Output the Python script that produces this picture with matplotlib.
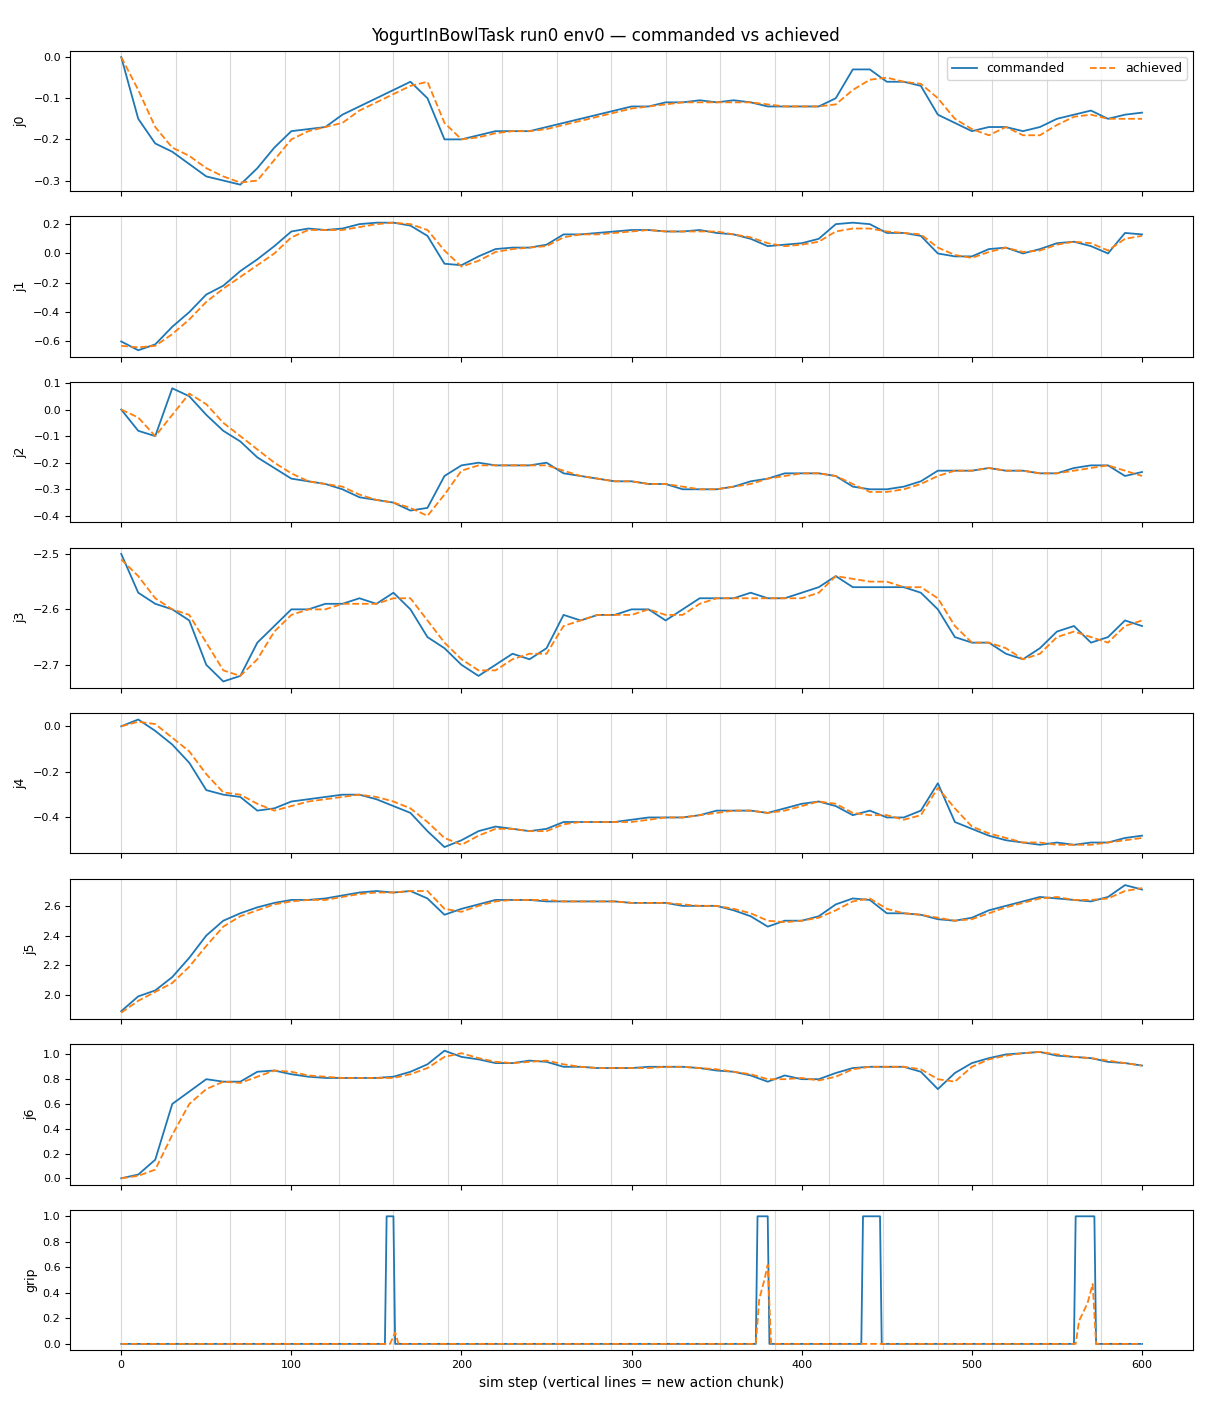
import matplotlib
matplotlib.use("Agg")
import matplotlib.pyplot as plt
from matplotlib.ticker import MultipleLocator

steps = list(range(0, 601, 10))

j0_cmd = [0.0, -0.15, -0.21, -0.23, -0.26, -0.29, -0.30, -0.31, -0.27, -0.22, -0.18, -0.175, -0.17, -0.14, -0.12,
          -0.10, -0.08, -0.06, -0.10, -0.20, -0.20, -0.19, -0.18, -0.18, -0.18, -0.17, -0.16, -0.15, -0.14, -0.13,
          -0.12, -0.12, -0.11, -0.11, -0.105, -0.11, -0.105, -0.11, -0.12, -0.12, -0.12, -0.12, -0.10, -0.03, -0.03,
          -0.06, -0.06, -0.07, -0.14, -0.16, -0.18, -0.17, -0.17, -0.18, -0.17, -0.15, -0.14, -0.13, -0.15, -0.14, -0.135]
j0_ach = [0.0, -0.08, -0.17, -0.22, -0.24, -0.27, -0.29, -0.305, -0.30, -0.25, -0.20, -0.18, -0.17, -0.16, -0.13,
          -0.11, -0.09, -0.07, -0.06, -0.16, -0.20, -0.195, -0.185, -0.18, -0.18, -0.175, -0.165, -0.155, -0.145, -0.135,
          -0.125, -0.12, -0.115, -0.11, -0.11, -0.11, -0.11, -0.11, -0.115, -0.12, -0.12, -0.12, -0.115, -0.08, -0.055,
          -0.05, -0.06, -0.065, -0.10, -0.15, -0.175, -0.19, -0.17, -0.19, -0.19, -0.165, -0.145, -0.14, -0.15, -0.15, -0.15]

j1_cmd = [-0.60, -0.66, -0.62, -0.50, -0.40, -0.28, -0.22, -0.12, -0.04, 0.05, 0.15, 0.17, 0.16, 0.17, 0.20,
          0.21, 0.21, 0.19, 0.12, -0.07, -0.08, -0.02, 0.03, 0.04, 0.04, 0.06, 0.13, 0.13, 0.14, 0.15,
          0.16, 0.16, 0.15, 0.15, 0.16, 0.14, 0.13, 0.10, 0.05, 0.06, 0.07, 0.10, 0.20, 0.21, 0.20,
          0.14, 0.14, 0.12, 0.0, -0.02, -0.02, 0.03, 0.04, 0.0, 0.03, 0.07, 0.08, 0.05, 0.0, 0.14, 0.13]
j1_ach = [-0.63, -0.64, -0.63, -0.55, -0.45, -0.33, -0.24, -0.16, -0.08, 0.0, 0.11, 0.16, 0.16, 0.16, 0.18,
          0.20, 0.21, 0.20, 0.16, 0.02, -0.09, -0.05, 0.01, 0.03, 0.04, 0.05, 0.11, 0.13, 0.13, 0.14,
          0.15, 0.16, 0.15, 0.15, 0.15, 0.15, 0.13, 0.11, 0.07, 0.05, 0.06, 0.08, 0.15, 0.17, 0.17,
          0.15, 0.14, 0.13, 0.04, -0.01, -0.03, 0.01, 0.04, 0.01, 0.02, 0.06, 0.08, 0.07, 0.02, 0.10, 0.12]

j2_cmd = [0.0, -0.08, -0.10, 0.08, 0.05, -0.02, -0.08, -0.12, -0.18, -0.22, -0.26, -0.27, -0.28, -0.30, -0.33,
          -0.34, -0.35, -0.38, -0.37, -0.25, -0.21, -0.20, -0.21, -0.21, -0.21, -0.20, -0.24, -0.25, -0.26, -0.27,
          -0.27, -0.28, -0.28, -0.30, -0.30, -0.30, -0.29, -0.27, -0.26, -0.24, -0.24, -0.24, -0.25, -0.29, -0.30,
          -0.30, -0.29, -0.27, -0.23, -0.23, -0.23, -0.22, -0.23, -0.23, -0.24, -0.24, -0.22, -0.21, -0.21, -0.25, -0.235]
j2_ach = [0.0, -0.03, -0.10, -0.02, 0.06, 0.02, -0.05, -0.10, -0.15, -0.20, -0.24, -0.27, -0.28, -0.29, -0.32,
          -0.34, -0.35, -0.37, -0.40, -0.32, -0.23, -0.21, -0.21, -0.21, -0.21, -0.21, -0.23, -0.25, -0.26, -0.27,
          -0.27, -0.28, -0.28, -0.29, -0.30, -0.30, -0.29, -0.28, -0.26, -0.25, -0.24, -0.24, -0.25, -0.28, -0.31,
          -0.31, -0.30, -0.28, -0.25, -0.23, -0.23, -0.22, -0.23, -0.23, -0.24, -0.24, -0.23, -0.22, -0.21, -0.23, -0.25]

j3_cmd = [-2.50, -2.57, -2.59, -2.60, -2.62, -2.70, -2.73, -2.72, -2.66, -2.63, -2.60, -2.60, -2.59, -2.59, -2.58,
          -2.59, -2.57, -2.60, -2.65, -2.67, -2.70, -2.72, -2.70, -2.68, -2.69, -2.67, -2.61, -2.62, -2.61, -2.61,
          -2.60, -2.60, -2.62, -2.60, -2.58, -2.58, -2.58, -2.57, -2.58, -2.58, -2.57, -2.56, -2.54, -2.56, -2.56,
          -2.56, -2.56, -2.57, -2.60, -2.65, -2.66, -2.66, -2.68, -2.69, -2.67, -2.64, -2.63, -2.66, -2.65, -2.62, -2.63]
j3_ach = [-2.51, -2.54, -2.58, -2.60, -2.61, -2.66, -2.71, -2.72, -2.69, -2.64, -2.61, -2.60, -2.60, -2.59, -2.59,
          -2.59, -2.58, -2.58, -2.62, -2.66, -2.69, -2.71, -2.71, -2.69, -2.68, -2.68, -2.63, -2.62, -2.61, -2.61,
          -2.61, -2.60, -2.61, -2.61, -2.59, -2.58, -2.58, -2.58, -2.58, -2.58, -2.58, -2.57, -2.54, -2.545, -2.55,
          -2.55, -2.56, -2.56, -2.58, -2.63, -2.66, -2.66, -2.67, -2.69, -2.68, -2.65, -2.64, -2.65, -2.66, -2.63, -2.62]

j4_cmd = [0.0, 0.03, -0.02, -0.08, -0.16, -0.28, -0.30, -0.31, -0.37, -0.36, -0.33, -0.32, -0.31, -0.30, -0.30,
          -0.32, -0.35, -0.38, -0.46, -0.53, -0.50, -0.46, -0.44, -0.45, -0.46, -0.45, -0.42, -0.42, -0.42, -0.42,
          -0.41, -0.40, -0.40, -0.40, -0.39, -0.37, -0.37, -0.37, -0.38, -0.36, -0.34, -0.33, -0.35, -0.39, -0.37,
          -0.40, -0.40, -0.37, -0.25, -0.42, -0.45, -0.48, -0.50, -0.51, -0.52, -0.51, -0.52, -0.51, -0.51, -0.49, -0.48]
j4_ach = [0.0, 0.02, 0.01, -0.05, -0.11, -0.21, -0.29, -0.30, -0.34, -0.37, -0.35, -0.33, -0.32, -0.31, -0.30,
          -0.31, -0.33, -0.36, -0.42, -0.49, -0.52, -0.48, -0.45, -0.45, -0.46, -0.46, -0.43, -0.42, -0.42, -0.42,
          -0.42, -0.41, -0.40, -0.40, -0.39, -0.38, -0.37, -0.37, -0.38, -0.37, -0.35, -0.33, -0.34, -0.38, -0.39,
          -0.39, -0.41, -0.39, -0.27, -0.36, -0.44, -0.47, -0.49, -0.51, -0.51, -0.52, -0.52, -0.52, -0.51, -0.50, -0.49]

j5_cmd = [1.89, 1.99, 2.03, 2.12, 2.25, 2.40, 2.50, 2.55, 2.59, 2.62, 2.64, 2.64, 2.65, 2.67, 2.69,
          2.70, 2.69, 2.70, 2.65, 2.54, 2.58, 2.61, 2.64, 2.64, 2.64, 2.63, 2.63, 2.63, 2.63, 2.63,
          2.62, 2.62, 2.62, 2.60, 2.60, 2.60, 2.57, 2.53, 2.46, 2.50, 2.50, 2.53, 2.61, 2.65, 2.64,
          2.55, 2.55, 2.54, 2.51, 2.50, 2.52, 2.57, 2.60, 2.63, 2.66, 2.65, 2.64, 2.63, 2.66, 2.74, 2.71]
j5_ach = [1.88, 1.96, 2.02, 2.08, 2.19, 2.33, 2.46, 2.53, 2.57, 2.61, 2.63, 2.64, 2.64, 2.66, 2.68,
          2.69, 2.69, 2.70, 2.70, 2.58, 2.56, 2.60, 2.63, 2.64, 2.64, 2.64, 2.63, 2.63, 2.63, 2.63,
          2.62, 2.62, 2.62, 2.61, 2.60, 2.60, 2.58, 2.55, 2.50, 2.49, 2.50, 2.52, 2.57, 2.63, 2.65,
          2.58, 2.55, 2.54, 2.52, 2.50, 2.51, 2.55, 2.59, 2.62, 2.65, 2.66, 2.64, 2.64, 2.65, 2.70, 2.72]

j6_cmd = [0.0, 0.03, 0.15, 0.60, 0.70, 0.80, 0.78, 0.78, 0.86, 0.87, 0.84, 0.82, 0.81, 0.81, 0.81,
          0.81, 0.82, 0.86, 0.92, 1.03, 0.98, 0.96, 0.93, 0.93, 0.95, 0.94, 0.90, 0.90, 0.89, 0.89,
          0.89, 0.90, 0.90, 0.90, 0.89, 0.87, 0.86, 0.83, 0.78, 0.83, 0.80, 0.80, 0.85, 0.89, 0.90,
          0.90, 0.90, 0.86, 0.72, 0.85, 0.93, 0.97, 1.00, 1.01, 1.02, 0.99, 0.98, 0.97, 0.94, 0.93, 0.91]
j6_ach = [0.0, 0.02, 0.07, 0.35, 0.60, 0.72, 0.78, 0.77, 0.82, 0.87, 0.86, 0.83, 0.82, 0.81, 0.81,
          0.81, 0.81, 0.84, 0.89, 0.98, 1.01, 0.97, 0.94, 0.93, 0.94, 0.95, 0.92, 0.90, 0.89, 0.89,
          0.89, 0.89, 0.90, 0.90, 0.89, 0.88, 0.86, 0.84, 0.80, 0.80, 0.81, 0.79, 0.82, 0.88, 0.90,
          0.90, 0.90, 0.88, 0.80, 0.78, 0.90, 0.96, 0.99, 1.01, 1.02, 1.00, 0.98, 0.97, 0.95, 0.93, 0.91]

grip_cmd_x = [0, 155, 156, 160, 161, 373, 374, 380, 381, 435, 436, 446, 447, 560, 561, 572, 573, 600]
grip_cmd = [0, 0, 1, 1, 0, 0, 1, 1, 0, 0, 1, 1, 0, 0, 1, 1, 0, 0]
grip_ach_x = [0, 158, 161, 163, 373, 375, 378, 380, 382, 436, 437, 561, 563, 568, 571, 573, 600]
grip_ach = [0, 0, 0.09, 0, 0, 0.35, 0.50, 0.62, 0, 0, 0, 0, 0.18, 0.32, 0.47, 0, 0]

joints = ["j0", "j1", "j2", "j3", "j4", "j5", "j6"]
cmd = [j0_cmd, j1_cmd, j2_cmd, j3_cmd, j4_cmd, j5_cmd, j6_cmd]
ach = [j0_ach, j1_ach, j2_ach, j3_ach, j4_ach, j5_ach, j6_ach]
chunk_starts = list(range(0, 600, 32))

fig, axes = plt.subplots(8, 1, figsize=(12.1, 14.08), sharex=True)
fig.subplots_adjust(left=0.058, right=0.986, top=0.964, bottom=0.041, hspace=0.18)

for i, ax in enumerate(axes):
    for c in chunk_starts:
        ax.axvline(c, color="0.85", lw=0.8, zorder=0)
    if i < 7:
        ax.plot(steps, cmd[i], color="C0", lw=1.3, label="commanded")
        ax.plot(steps, ach[i], color="C1", lw=1.3, ls="--", label="achieved")
        ax.set_ylabel(joints[i], fontsize=9)
    else:
        ax.plot(grip_cmd_x, grip_cmd, color="C0", lw=1.3, label="commanded")
        ax.plot(grip_ach_x, grip_ach, color="C1", lw=1.3, ls="--", label="achieved")
        ax.set_ylabel("grip", fontsize=9)
    ax.tick_params(labelsize=8)

axes[3].yaxis.set_major_locator(MultipleLocator(0.1))
axes[0].legend(loc="upper right", ncol=2, fontsize=9)
axes[-1].set_xlabel("sim step (vertical lines = new action chunk)", fontsize=10)
fig.suptitle("YogurtInBowlTask run0 env0 \u2014 commanded vs achieved", fontsize=12, y=0.981)

fig.savefig("out.png", dpi=100)
